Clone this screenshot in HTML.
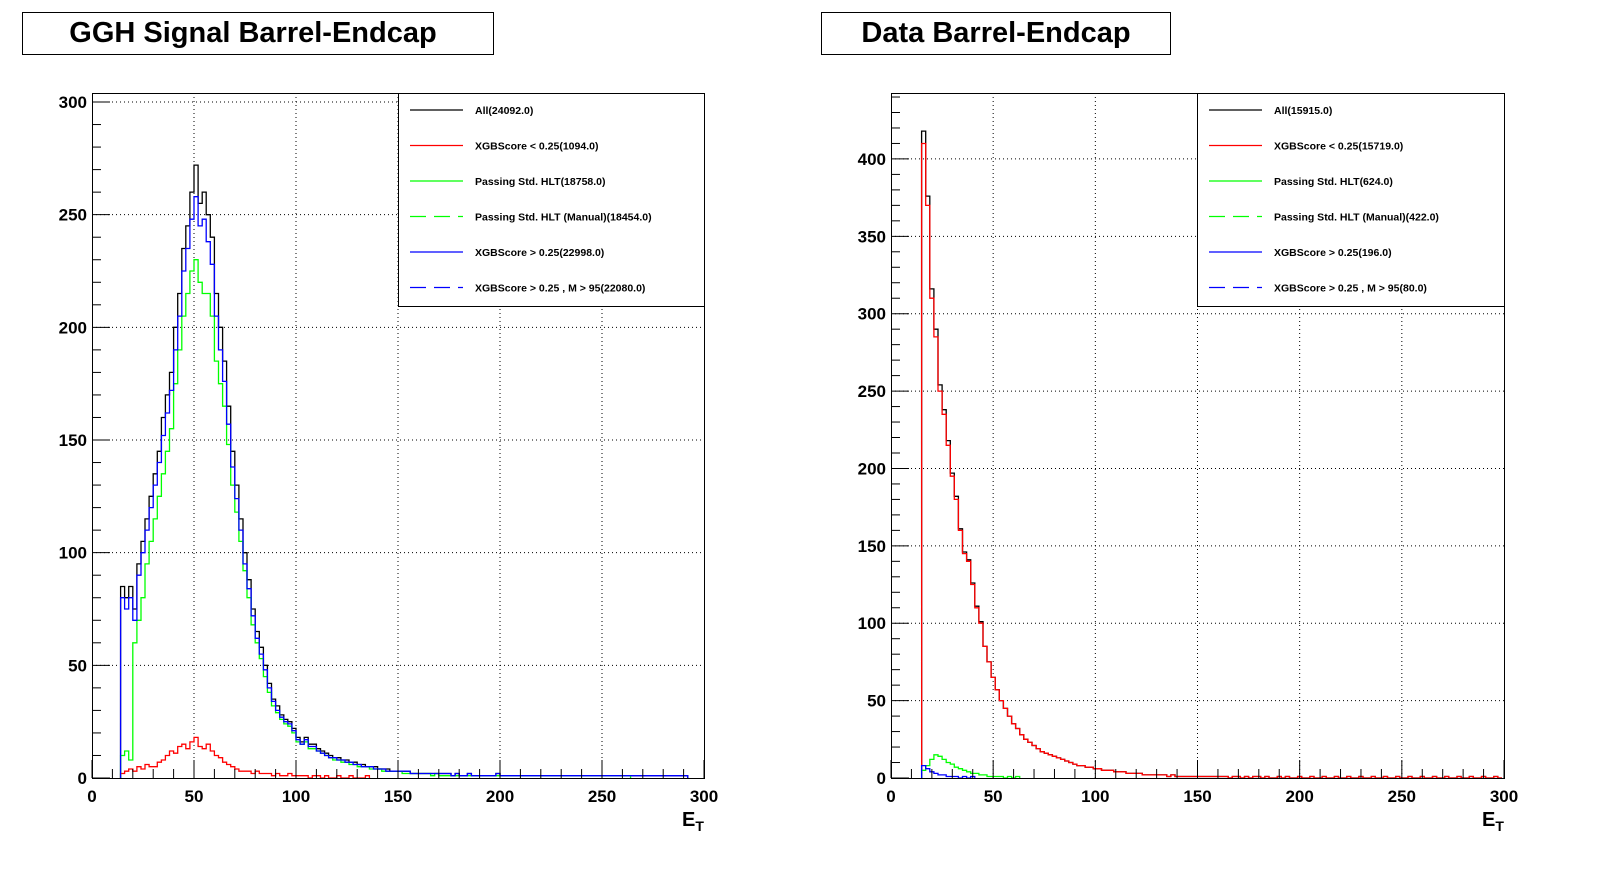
<!DOCTYPE html>
<html><head><meta charset="utf-8"><style>
body{margin:0;background:#fff;width:1598px;height:874px;overflow:hidden;font-family:"Liberation Sans",Arial,sans-serif}
svg{display:block}
</style></head><body>
<svg id="svg" width="1598" height="874" xmlns="http://www.w3.org/2000/svg">
<g><rect x="22.5" y="12.5" width="471" height="42" fill="#fff" stroke="#000"/><text x="253" y="42" font-size="29" font-weight="bold" text-anchor="middle" font-family="Liberation Sans, sans-serif">GGH Signal Barrel-Endcap</text></g>
<g><rect x="821.5" y="12.5" width="349" height="42" fill="#fff" stroke="#000"/><text x="996" y="42" font-size="29" font-weight="bold" text-anchor="middle" font-family="Liberation Sans, sans-serif">Data Barrel-Endcap</text></g>
</svg>
<script>
// Left (GGH signal) histograms, bin width 2, starting at x=14
const binWidth = 2;
const leftStart = 14;
const allL = [85,80,85,75,95,105,115,125,135,145,160,170,180,200,215,235,245,260,272,255,260,250,240,215,200,185,165,145,130,115,100,88,75,65,58,50,42,35,32,28,26,25,22,18,16,18,15,15,13,12,11,10,9,9,8,8,7,7,6,6,5,5,5,4,4,4,3,3,3,3,3,2,2,2,2,2,2,2,2,2,2,1,2,1,1,2,1,1,1,1,1,1,2,1,1,1,1,1,1,1,1,1,1,1,1,1,1,1,1,1,1,1,1,1,1,1,1,1,1,1,1,1,1,1,1,1,1,1,1,1,1,1,1,1,1,1,1,1,1];
const redL = [2,3,4,3,5,4,6,5,5,7,8,10,12,11,14,15,13,16,18,14,13,15,12,10,9,7,6,5,4,3,3,3,2,3,2,2,2,1,2,1,1,2,1,1,1,1,0,1,1,0,1,0,0,1,0,0,1,0,0,0,1];
const greenL = [10,12,8,60,70,80,95,105,115,125,135,145,155,175,190,205,215,225,230,220,215,215,205,185,175,165,148,130,118,105,92,80,68,60,53,45,38,32,29,26,24,23,20,16,15,16,13,13,12,11,10,9,8,8,7,7,6,6,5,5,5,4,4,4,3,3,3,3,3,2,2,2,2,2,2,2,1,2,1,1,1,1,1,1,1,1,1,1,1,1,1,1,1,1,1,1,1,1,1,1,1,1,1,1,1,1,1,1,1,1,1,1,1,1,1,1,1,1,1,1,1,1,1,1,1];
const blueL = [80,75,80,70,90,100,110,120,130,140,152,162,172,190,205,225,235,248,258,245,248,238,228,205,190,176,157,138,124,110,95,84,72,62,55,48,40,34,30,27,25,24,21,17,15,17,14,14,12,11,10,9,9,8,8,7,7,6,6,5,5,5,4,4,4,3,3,3,3,3,3,2,2,2,2,2,2,2,2,2,2,1,2,1,1,2,1,1,1,1,1,1,2,1,1,1,1,1,1,1,1,1,1,1,1,1,1,1,1,1,1,1,1,1,1,1,1,1,1,1,1,1,1,1,1,1,1,1,1,1,1,1,1,1,1,1,1,1,1];
// Right (Data) histograms, starting at x=15
const rightStart = 15;
const redR = [410,370,310,285,250,235,215,195,180,160,145,140,125,110,100,85,75,65,57,50,45,40,35,32,28,25,23,21,19,17,16,15,14,13,12,11,10,9,8,8,7,7,6,6,5,5,5,4,4,4,3,3,3,3,2,2,2,2,2,2,1,2,1,1,1,1,1,1,1,1,1,1,1,1,1,0,1,1,0,1,0,1,1,0,1,0,0,1,0,1,0,0,1,0,0,1,0,0,1,0,0,1,0,0,1,0,0,1,0,0,1,0,0,1,0,0,1,0,0,1,0,0,1,0,0,1,0,0,1,0,0,1,0,0,1,0,0,1,0,0,1,0];
const allR = [418,376,316,290,254,238,218,197,182,161,146,141,126,111,101,85,75,65,57,50,45,40,35,32,28,25,23,21,19,17,16,15,14,13,12,11,10,9,8,8,7,7,6,6,5,5,5,4,4,4,3,3,3,3,2,2,2,2,2,2,1,2,1,1,1,1,1,1,1,1,1,1,1,1,1,0,1,1,0,1,0,1,1,0,1,0,0,1,0,1,0,0,1,0,0,1,0,0,1,0,0,1,0,0,1,0,0,1,0,0,1,0,0,1,0,0,1,0,0,1,0,0,1,0,0,1,0,0,1,0,0,1,0,0,1,0,0,1,0,0,1,0];
const greenR = [5,8,12,15,14,12,10,9,7,6,5,4,3,3,2,2,1,1,1,1,0,1,0,1];
const blueR = [8,6,4,3,2,2,1,1,1,0,1,0,1];
const xTicks = [0,50,100,150,200,250,300];
const yTicksL = [0,50,100,150,200,250,300];
const yTicksR = [0,50,100,150,200,250,300,350,400];
const legendL = ["All(24092.0)","XGBScore < 0.25(1094.0)","Passing Std. HLT(18758.0)","Passing Std. HLT (Manual)(18454.0)","XGBScore > 0.25(22998.0)","XGBScore > 0.25 , M > 95(22080.0)"];
const legendR = ["All(15915.0)","XGBScore < 0.25(15719.0)","Passing Std. HLT(624.0)","Passing Std. HLT (Manual)(422.0)","XGBScore > 0.25(196.0)","XGBScore > 0.25 , M > 95(80.0)"];

const NS="http://www.w3.org/2000/svg";
const svg=document.getElementById('svg');
function mk(t,a,p){const e=document.createElementNS(NS,t);for(const k in a)e.setAttribute(k,a[k]);(p||svg).appendChild(e);return e;}

function panel(P){
  const g=mk('g',{});
  
  
  const sx=v=>P.x0+(v-0)/300*(P.x1-P.x0);
  const sy=v=>P.y1-v/P.ymax*(P.y1-P.y0);
  // grid
  xTicks.forEach(t=>{ if(t>0&&t<300){const l=mk('line',{x1:sx(t),x2:sx(t),y1:P.y0,y2:P.y1,stroke:'#000','stroke-width':1,'stroke-dasharray':'1,3'},g);
    
    }});
  P.yt.forEach(t=>{ if(t>0){const l=mk('line',{x1:P.x0,x2:P.x1,y1:sy(t),y2:sy(t),stroke:'#000','stroke-width':1,'stroke-dasharray':'1,3'},g);
    
    }});
  // histograms
  P.series.forEach(s=>{
    let d='M'+sx(s.start)+','+sy(0);
    s.data.forEach((v,i)=>{const xa=s.start+i*binWidth, xb=Math.min(300,xa+binWidth);
      d+=' L'+sx(xa).toFixed(1)+','+sy(v).toFixed(1)+' L'+sx(xb).toFixed(1)+','+sy(v).toFixed(1);});
    const endX=Math.min(300,s.start+s.data.length*binWidth);
    d+=' L'+sx(endX)+','+sy(0);
    const p=mk('path',{d:d,fill:'none',stroke:s.color,'stroke-width':s.w||1.3},g);
    
    
  });
  // frame
  const fr=mk('rect',{x:P.x0+0.5,y:P.y0+0.5,width:P.x1-P.x0,height:P.y1-P.y0,fill:'none',stroke:'#000','stroke-width':1},g);
  
  
  // x ticks
  for(let v=0;v<=300;v+=10){const major=v%50===0;
    mk('line',{x1:sx(v),x2:sx(v),y1:P.y1,y2:P.y1-(major?18:9),stroke:'#000','stroke-width':1},g);}
  xTicks.forEach(t=>{const tx=mk('text',{x:sx(t),y:P.y1+24,'font-size':17,'font-weight':'bold','text-anchor':'middle'},g);tx.textContent=t;
    
    });
  // y ticks
  for(let v=0;v<=P.ymax;v+=10){const major=v%50===0;
    mk('line',{x1:P.x0,x2:P.x0+(major?18:9),y1:sy(v),y2:sy(v),stroke:'#000','stroke-width':1},g);}
  P.yt.forEach(t=>{const tx=mk('text',{x:P.x0-5,y:sy(t)+6,'font-size':17,'font-weight':'bold','text-anchor':'end'},g);tx.textContent=t;
    
    });
  // axis title
  const at=mk('text',{x:P.x1-22,y:P.y1+48,'font-size':20,'font-weight':'bold'},g);
  
  
  at.textContent='E';
  const sub=mk('tspan',{'font-size':14,dy:5},at);sub.textContent='T';
  // legend
  const lg=mk('g',{},g);
  
  
  mk('rect',{x:P.lx+0.5,y:P.y0+0.5,width:P.x1-P.lx,height:213,fill:'#fff',stroke:'#000'},lg);
  const cols=['#000','#f00','#0f0','#0f0','#00f','#00f'];
  P.legend.forEach((txt,i)=>{const y=P.y0+17+i*35.5;
    const e=mk('g',{},lg);
    
    
    const at={x1:P.lx+12,x2:P.lx+65,y1:y,y2:y,stroke:cols[i],'stroke-width':1.2};
    if(i===3||i===5) at['stroke-dasharray']='16,8';
    mk('line',at,e);
    const t=mk('text',{x:P.lx+77,y:y+4,'font-size':10.5,'font-weight':'bold'},e);t.textContent=txt;});
}
panel({name:'ggh-signal-panel',x0:92,x1:704,y0:93,y1:778,ymax:304,yt:yTicksL,lx:398,legend:legendL,
  series:[{id:'series-all',data:allL,start:leftStart,color:'#000'},{id:'series-red',data:redL,start:leftStart,color:'#f00'},
          {id:'series-green',data:greenL,start:leftStart,color:'#0f0'},{id:'series-blue',data:blueL,start:leftStart,color:'#00f'}]});
panel({name:'data-panel',x0:891,x1:1504,y0:93,y1:778,ymax:442.6,yt:yTicksR,lx:1197,legend:legendR,
  series:[{id:'series-all',data:allR,start:rightStart,color:'#000'},{id:'series-red',data:redR,start:rightStart,color:'#f00'},
          {id:'series-green',data:greenR,start:rightStart,color:'#0f0'},{id:'series-blue',data:blueR,start:rightStart,color:'#00f'}]});
</script>
</body></html>
